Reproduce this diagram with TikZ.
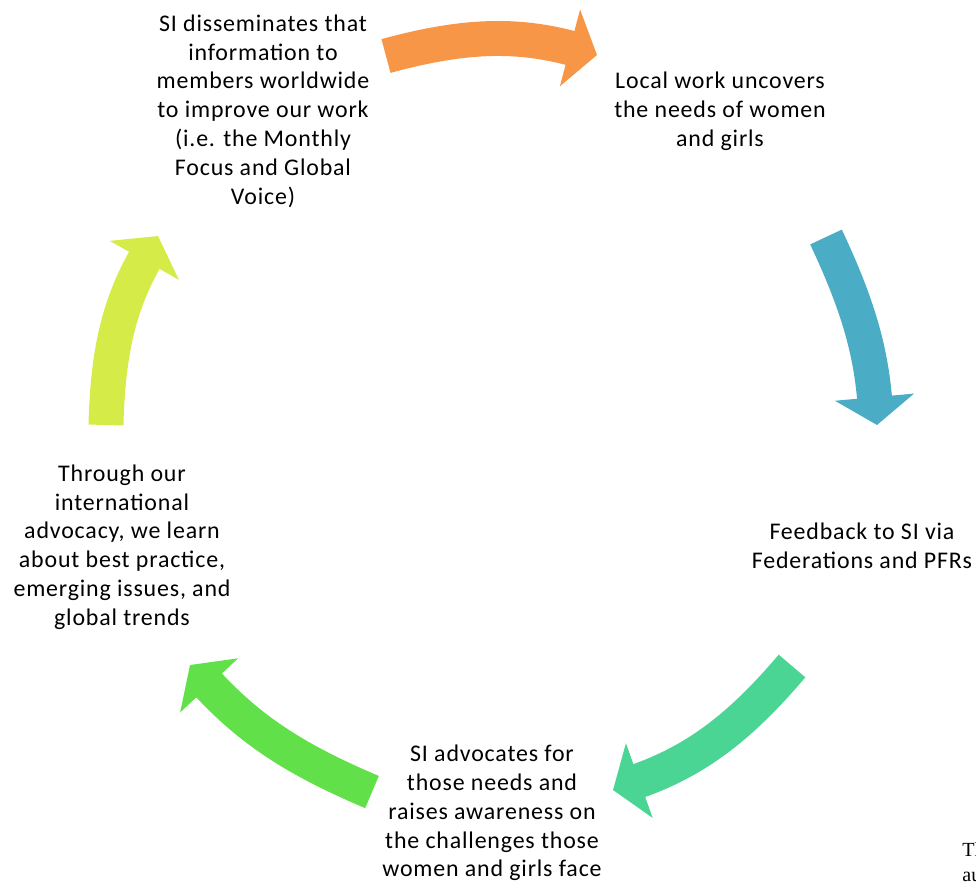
\documentclass[tikz,border=0pt]{standalone}
\usepackage{fontspec}
\setmainfont{Carlito}[LetterSpace=3.5]
\newfontfamily\cutfont{Liberation Serif}
\usetikzlibrary{arrows.meta}
\definecolor{StepOrange}{HTML}{F79646}
\definecolor{StepBlue}{HTML}{4BACC6}
\definecolor{StepTeal}{HTML}{4AD594}
\definecolor{StepGreen}{HTML}{61E049}
\definecolor{StepLime}{HTML}{D5EB47}

\begin{document}
\begin{tikzpicture}[
        x=0.02cm, y=-0.02cm,
        every node/.style={align=center, inner sep=0pt, font=\fontsize{13.6}{16.4}\selectfont},
        cyc/.style={line width=19.9pt, -{Triangle[width=44.4pt, length=15.9pt]}}]
        \useasboundingbox (0,0) rectangle (976,883);
        % the six steps of the cycle
        \node (share) at (263,111) {SI disseminates that\\information to\\members worldwide\\to improve our work\\(i.e. the Monthly\\Focus and Global\\Voice)};
        \node (local) at (720,111) {Local work uncovers\\the needs of women\\and girls};
        \node (feed) at (862,546) {Feedback to SI via\\Federations and PFRs};
        \node (advoc) at (492,813) {SI advocates for\\those needs and\\raises awareness on\\the challenges those\\women and girls face};
        \node (learn) at (122,547) {Through our\\international\\advocacy, we learn\\about best practice,\\emerging issues, and\\global trends};
        \node[anchor=north west, font=\cutfont\fontsize{11.4}{14.2}\selectfont, align=left] (cut) at (962,842) {Th\\au};
        % arrow ends
        \coordinate (o1) at (386,56);  \coordinate (o2) at (597,55);
        \coordinate (b1) at (826,237); \coordinate (b2) at (877,425);
        \coordinate (t1) at (792,666); \coordinate (t2) at (613,790);
        \coordinate (g1) at (372,792); \coordinate (g2) at (190,665);
        \coordinate (y1) at (106,425); \coordinate (y2) at (158,236);
        \draw[cyc, StepOrange] (o1) to[bend left=15] (o2);
        \draw[cyc, StepBlue] (b1) to[bend left=10] (b2);
        \draw[cyc, StepTeal] (t1) to[bend left=15] (t2);
        \draw[cyc, StepGreen] (g1) to[bend left=12] (g2);
        \draw[cyc, StepLime] (y1) to[bend left=14] (y2);
    \end{tikzpicture}
\end{document}
